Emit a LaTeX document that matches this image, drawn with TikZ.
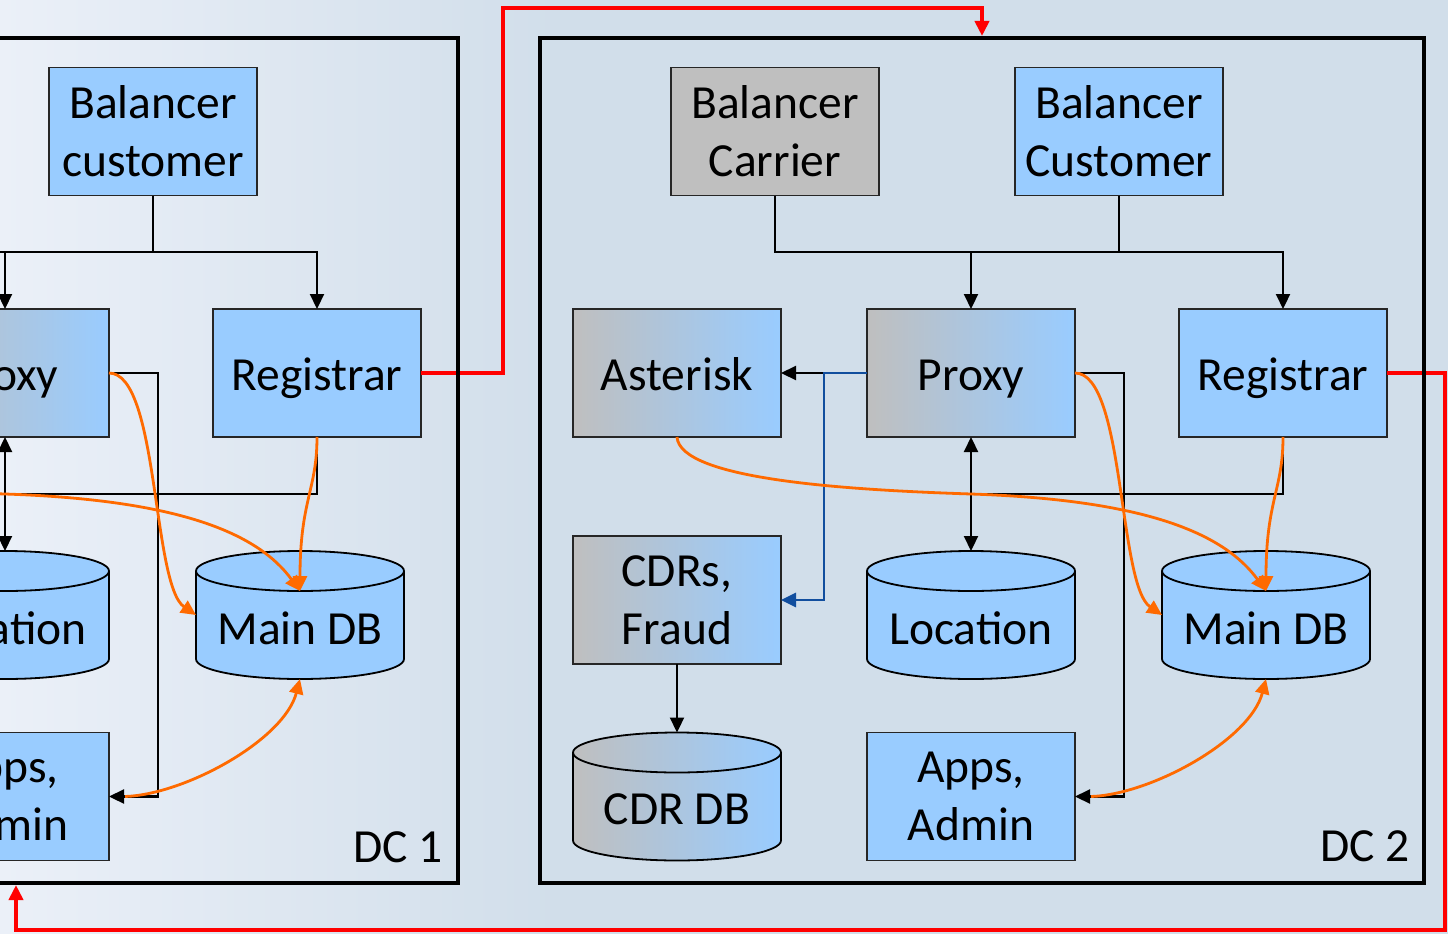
\documentclass[tikz,border=0pt]{standalone}
\usepackage{fontspec}
\setmainfont{Carlito}
\usetikzlibrary{arrows.meta,calc}

\definecolor{nodeblue}{HTML}{99CCFF}
\definecolor{nodegrey}{HTML}{BFBFBF}
\definecolor{bgleft}{HTML}{EBF0F8}
\definecolor{bgright}{HTML}{D1DEEA}
\definecolor{linkorange}{HTML}{FF6A00}
\definecolor{linkblue}{HTML}{114E9E}
\definecolor{linkred}{HTML}{FF0000}

\newcommand\labelfont{\fontsize{47.5}{58}\selectfont}

\tikzset{
  unitbox/.style={draw=black!85, line width=1.8pt, minimum width=208pt,
    minimum height=128pt, inner sep=0pt, outer sep=0pt, align=center,
    font=\labelfont},
  bluebox/.style={unitbox, fill=nodeblue},
  greybox/.style={unitbox, fill=nodegrey},
  mixbox/.style={unitbox, left color=nodegrey, right color=nodeblue},
  oneline/.style={text height=40pt, text depth=6pt},
  dbanchor/.style={minimum width=208pt, minimum height=128pt, inner sep=0pt, outer sep=0pt},
  dblabel/.style={inner sep=0pt, font=\labelfont},
  dclabel/.style={inner sep=0pt, anchor=base east, font=\labelfont},
  framebox/.style={minimum width=884pt, minimum height=845pt, inner sep=0pt, outer sep=0pt},
  frameline/.style={draw=black, line width=4pt},
  wire/.style={draw=black, line width=2.2pt},
  bluewire/.style={draw=linkblue, line width=2.8pt},
  orangewire/.style={draw=linkorange, line width=2.8pt, ->},
  redwire/.style={draw=linkred, line width=4pt, ->},
}

% cylinder: name, centre x, centre y, fill options, text
\newcommand\database[5]{%
  \path[#4, draw=black, line width=1.8pt]
    (#2-104,#3-44) -- (#2-104,#3+44)
    arc[start angle=180, end angle=0, x radius=104, y radius=20]
    -- (#2+104,#3-44)
    arc[start angle=0, end angle=-180, x radius=104, y radius=20] -- cycle;
  \draw[line width=1.8pt] (#2-104,#3-44)
    arc[start angle=180, end angle=0, x radius=104, y radius=20];
  \node[dbanchor] (#1) at (#2,#3) {};
  \coordinate (#1-face) at (#2,#3-24);
  \node[dblabel] (#1-text) at (#2,#3+13) {#5};
}

\begin{document}
\begin{tikzpicture}[x=1pt, y=-1pt, >={Triangle[length=15pt, width=14pt]}]
\path[use as bounding box, clip] (0,0) rectangle (1448,934);

% backdrop
\fill[left color=bgleft, right color=bgright] (0,0) rectangle (560,934);
\fill[bgright] (559,0) rectangle (1448,934);

% data-centre frames (outline drawn later)
\node[framebox] (dc1) at (16,460.5) {};
\node[framebox] (dc2) at (982,460.5) {};

\coordinate (bus) at (0,252);
\coordinate (tie) at (0,494);

% ---------------- DC 1 ----------------
\coordinate (carr1) at (-191,195);
\coordinate (ast1) at (-289,437);
\node[bluebox] (bcu1) at (153,131.5) {Balancer\\customer};
\node[mixbox, oneline] (proxy1) at (5,373) {Proxy};
\node[bluebox, oneline] (reg1) at (317,373) {Registrar};
\node[bluebox] (apps1) at (5,796.5) {Apps,\\Admin};

\draw[wire,->] (carr1) |- (reg1.north |- bus) -- (reg1.north);
\draw[wire] (bcu1.south) -- (bcu1.south |- bus);
\draw[wire,->] (proxy1.north |- bus) -- (proxy1.north);
\draw[wire] (reg1.south) |- (proxy1.south |- tie);
\draw[wire,->] (proxy1.east) -- ++(49,0) |- (apps1.east);

\database{loc1}{5}{615}{fill=nodeblue}{Location}
\database{mdb1}{300}{615}{fill=nodeblue}{Main DB}
\draw[wire,<->] (proxy1.south) -- (loc1.north);

\draw[orangewire] (ast1) .. controls +(3,43) and +(-121,-4) .. (proxy1.south |- tie)
  .. controls +(179,6) and +(-41,-56) .. (mdb1-face);
\draw[orangewire] (reg1.south) .. controls +(0,53) and +(0,-91) .. (mdb1-face);
\draw[orangewire] (proxy1.east) .. controls +(50,0) and +(-44,-30) .. (mdb1.west);
\draw[orangewire] ($(apps1.east)+(16,0)$) .. controls +(60,-2) and +(-16,61) .. (mdb1.south);

% ---------------- DC 2 ----------------
\node[greybox] (carr2) at (775,131.5) {Balancer\\Carrier};
\node[bluebox] (bcu2) at (1119,131.5) {Balancer\\Customer};
\node[mixbox, oneline] (ast2) at (677,373) {Asterisk};
\node[mixbox, oneline] (proxy2) at (971,373) {Proxy};
\node[bluebox, oneline] (reg2) at (1283,373) {Registrar};
\node[mixbox] (cdr2) at (677,600) {CDRs,\\Fraud};
\node[bluebox] (apps2) at (971,796.5) {Apps,\\Admin};

\draw[wire,->] (carr2.south) |- (reg2.north |- bus) -- (reg2.north);
\draw[wire] (bcu2.south) -- (bcu2.south |- bus);
\draw[wire,->] (proxy2.north |- bus) -- (proxy2.north);
\draw[wire] (reg2.south) |- (proxy2.south |- tie);
\draw[wire,->] (proxy2.east) -- ++(49,0) |- (apps2.east);
\draw[wire,->] (proxy2.west) -- (ast2.east);

\database{loc2}{971}{615}{fill=nodeblue}{Location}
\database{mdb2}{1266}{615}{fill=nodeblue}{Main DB}
\database{cdrdb2}{677}{796.5}{left color=nodegrey, right color=nodeblue}{CDR DB}
\draw[wire,<->] (proxy2.south) -- (loc2.north);
\draw[wire,->] (cdr2.south) -- (cdrdb2.north);
\draw[bluewire,->] (proxy2.west) -- ++(-43,0) |- (cdr2.east);

\draw[orangewire] (ast2.south) .. controls +(3,43) and +(-121,-4) .. (proxy2.south |- tie)
  .. controls +(179,6) and +(-41,-56) .. (mdb2-face);
\draw[orangewire] (reg2.south) .. controls +(0,53) and +(0,-91) .. (mdb2-face);
\draw[orangewire] (proxy2.east) .. controls +(50,0) and +(-44,-30) .. (mdb2.west);
\draw[orangewire] ($(apps2.east)+(16,0)$) .. controls +(60,-2) and +(-16,61) .. (mdb2.south);

% inter-site replication links
\draw[redwire, shorten >=2pt] (reg1.east) -- ++(82,0) |- ($(dc2.north)+(0,-30)$) -- (dc2.north);
\draw[redwire, shorten >=2pt] (reg2.east) -- ++(58,0) |- ($(dc1.south)+(0,47)$) -- (dc1.south);

% frames and their captions
\draw[frameline] (dc1.south west) rectangle (dc1.north east);
\draw[frameline] (dc2.south west) rectangle (dc2.north east);
\node[dclabel] (dc1-caption) at (443,862) {DC 1};
\node[dclabel] (dc2-caption) at (1410,861) {DC 2};
\end{tikzpicture}
\end{document}
